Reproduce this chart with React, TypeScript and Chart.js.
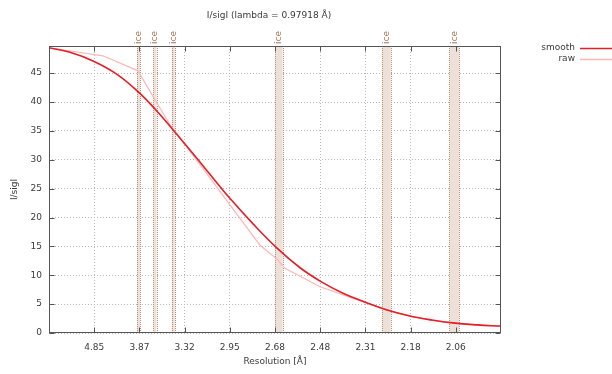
import React, { useEffect, useRef } from "react";
import { Chart, registerables } from "chart.js";

Chart.register(...registerables);

// ---- data (resolution in Å, I/sigI) ----
const smoothRes = [7.378, 5.814, 4.887, 4.276, 3.895, 3.652, 3.438, 3.305, 3.111, 2.955, 2.802, 2.671, 2.561, 2.472, 2.388, 2.308, 2.242, 2.176, 2.118, 2.067, 2.012, 1.964];
const smoothVal = [49.4, 48.6, 47.1, 44.8, 41.8, 38.8, 35.2, 32.5, 27.9, 23.5, 18.9, 14.7, 11.3, 8.9, 6.9, 5.3, 4.0, 2.95, 2.25, 1.75, 1.4, 1.2];

const rawRes = [7.378, 4.602, 3.895, 3.652, 3.438, 3.305, 3.111, 2.955, 2.762, 2.671, 2.631, 2.476, 2.318, 2.242, 2.176, 2.118, 2.067, 2.012, 1.964];
const rawVal = [49.4, 48.0, 45.4, 40.4, 35.2, 32.4, 27.3, 22.4, 15.2, 12.8, 11.2, 8.0, 5.4, 4.0, 2.9, 2.2, 1.7, 1.4, 1.2];

const xTickLabels = ["4.85", "3.87", "3.32", "2.95", "2.68", "2.48", "2.31", "2.18", "2.06"];
const yTicks = [0, 5, 10, 15, 20, 25, 30, 35, 40, 45];
const yMax = 49.7;

// ice ring bands (resolution limits, Å)
const iceLow = [3.91, 3.672, 3.451, 2.681, 2.257, 2.075];
const iceHigh = [3.864, 3.632, 3.419, 2.643, 2.231, 2.052];

const titleText = "I/sigI (lambda = 0.97918 Å)";
const seriesNames = ["smooth", "raw"];
const xTitle = "Resolution [Å]";
const yTitle = "I/sigI";

const inv2 = (d: number) => 1 / (d * d);
const firstTick = inv2(parseFloat(xTickLabels[0]));
const lastTick = inv2(parseFloat(xTickLabels[xTickLabels.length - 1]));
const tickStep = (lastTick - firstTick) / (xTickLabels.length - 1);
const xTickValues = xTickLabels.map((_, i) => firstTick + i * tickStep);
const xMin = firstTick - tickStep;
const xMax = lastTick + tickStep;

const FONT = "'DejaVu Sans', sans-serif";
const TEXT = "#3a3a3a";
const RED = "rgb(228,30,38)";
const PINK = "rgb(255,182,182)";

const decor = {
  id: "decor",
  beforeDatasetsDraw(chart: any) {
    const { ctx, chartArea } = chart;
    const xs = chart.scales.x;
    ctx.save();
    for (let i = 0; i < iceLow.length; i++) {
      const x1 = xs.getPixelForValue(inv2(iceLow[i]));
      const x2 = xs.getPixelForValue(inv2(iceHigh[i]));
      ctx.fillStyle = "rgb(236,224,216)";
      ctx.fillRect(x1, chartArea.top, x2 - x1, chartArea.bottom - chartArea.top);
      ctx.strokeStyle = "rgb(185,145,118)";
      ctx.lineWidth = 1;
      ctx.setLineDash([1, 1]);
      for (const xx of [x1, x2]) {
        const px = Math.round(xx) + 0.5;
        ctx.beginPath();
        ctx.moveTo(px, chartArea.top);
        ctx.lineTo(px, chartArea.bottom);
        ctx.stroke();
      }
      ctx.setLineDash([]);
      // label
      ctx.save();
      ctx.translate((x1 + x2) / 2, chartArea.top - 2);
      ctx.rotate(-Math.PI / 2);
      ctx.fillStyle = "rgb(168,118,86)";
      ctx.font = `9px ${FONT}`;
      ctx.textAlign = "left";
      ctx.textBaseline = "middle";
      ctx.fillText("ice", 0, 0);
      ctx.restore();
    }
    ctx.restore();
  },
  afterDraw(chart: any) {
    const { ctx, chartArea } = chart;
    const xs = chart.scales.x;
    const ys = chart.scales.y;
    const L = Math.round(chartArea.left) + 0.5;
    const R = Math.round(chartArea.right) - 0.5;
    const T = Math.round(chartArea.top) + 0.5;
    const B = Math.round(chartArea.bottom) - 0.5;
    ctx.save();
    ctx.strokeStyle = "#555";
    ctx.lineWidth = 1;
    ctx.strokeRect(L, T, R - L, B - T);
    // inward tick marks, mirrored
    ctx.beginPath();
    for (const v of xTickValues) {
      const px = Math.round(xs.getPixelForValue(v)) + 0.5;
      ctx.moveTo(px, B); ctx.lineTo(px, B - 5);
      ctx.moveTo(px, T); ctx.lineTo(px, T + 5);
    }
    for (const v of yTicks) {
      const py = Math.round(ys.getPixelForValue(v)) + 0.5;
      ctx.moveTo(L, py); ctx.lineTo(L + 5, py);
      ctx.moveTo(R, py); ctx.lineTo(R - 5, py);
    }
    ctx.stroke();
    // title
    ctx.fillStyle = TEXT;
    ctx.font = `9px ${FONT}`;
    ctx.textAlign = "center";
    ctx.textBaseline = "middle";
    ctx.fillText(titleText, (chartArea.left + chartArea.right) / 2 - 6, 16);
    // legend
    const colors = [RED, PINK];
    const widths = [1.5, 1.5];
    seriesNames.forEach((name, i) => {
      const y = 48 + i * 11;
      ctx.fillStyle = TEXT;
      ctx.textAlign = "right";
      ctx.fillText(name, 575, y);
      ctx.strokeStyle = colors[i];
      ctx.lineWidth = widths[i];
      ctx.beginPath();
      ctx.moveTo(580, y + 0.5);
      ctx.lineTo(612, y + 0.5);
      ctx.stroke();
    });
    ctx.restore();
  },
};

export default function App() {
  const ref = useRef<HTMLCanvasElement | null>(null);
  useEffect(() => {
    document.body.style.margin = "0";
    const canvas = ref.current!;
    const chart = new Chart(canvas, {
      type: "line",
      data: {
        datasets: [
          {
            label: seriesNames[0],
            data: smoothRes.map((d, i) => ({ x: inv2(d), y: smoothVal[i] })),
            borderColor: RED,
            borderWidth: 1.6,
            pointRadius: 0,
            tension: 0.4,
            fill: false,
            order: 0,
          },
          {
            label: seriesNames[1],
            data: rawRes.map((d, i) => ({ x: inv2(d), y: rawVal[i] })),
            borderColor: PINK,
            borderWidth: 1.2,
            pointRadius: 0,
            tension: 0,
            fill: false,
            order: 1,
          },
        ],
      },
      options: {
        animation: false,
        responsive: false,
        events: [],
        layout: { padding: { left: 0, top: 46, right: 111, bottom: 0 } },
        plugins: { legend: { display: false }, tooltip: { enabled: false }, title: { display: false } },
        scales: {
          x: {
            type: "linear",
            min: xMin,
            max: xMax,
            afterBuildTicks: (s: any) => { s.ticks = xTickValues.map((v) => ({ value: v })); },
            afterFit: (s: any) => { s.height = 41; },
            ticks: {
              autoSkip: false,
              maxRotation: 0,
              padding: 9,
              color: TEXT,
              font: { family: FONT, size: 9 },
              callback: (_v: any, i: number) => xTickLabels[i],
            },
            grid: { color: "#b8b8b8", drawTicks: false, lineWidth: 1 },
            border: { display: false, dash: [1, 2] },
            title: { display: true, text: xTitle, color: TEXT, font: { family: FONT, size: 9 }, padding: { top: 0, bottom: 7 } },
          },
          y: {
            type: "linear",
            min: 0,
            max: yMax,
            afterBuildTicks: (s: any) => { s.ticks = yTicks.map((v) => ({ value: v })); },
            afterFit: (s: any) => { s.width = 49; },
            ticks: {
              padding: 7,
              color: TEXT,
              font: { family: FONT, size: 9 },
              callback: (v: any) => String(v),
            },
            grid: { color: "#b8b8b8", drawTicks: false, lineWidth: 1 },
            border: { display: false, dash: [1, 2] },
            title: { display: true, text: yTitle, color: TEXT, font: { family: FONT, size: 9 }, padding: { top: 9, bottom: 0 } },
          },
        },
      },
      plugins: [decor],
    } as any);
    return () => chart.destroy();
  }, []);
  return (
    <div style={{ position: "absolute", left: 0, top: 0, width: 612, height: 374, background: "#fff" }}>
      <canvas ref={ref} width={612} height={374} style={{ display: "block" }} />
    </div>
  );
}
